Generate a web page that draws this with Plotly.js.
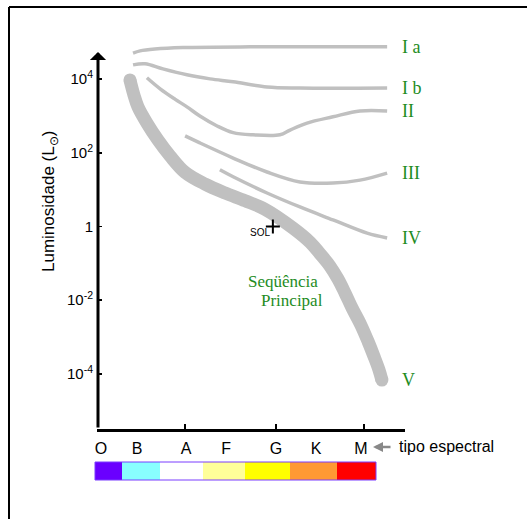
<!DOCTYPE html>
<html>
<head>
<meta charset="utf-8">
<script src="https://cdn.plot.ly/plotly-3.0.1.min.js"></script>
<style>
html,body{margin:0;padding:0;background:#fff;}
#chart{width:527px;height:519px;}
</style>
</head>
<body>
<div id="chart"></div>
<script>
// ---- data (x: spectral position on a 0-100 scale, y: log10 of luminosity in solar units) ----
const spectralClasses = ['O','B','A','F','G','K','M'];
const spectralPos = [1.3, 13.0, 28.9, 41.9, 58.1, 71.1, 85.7];
const tickMarkPos = [28.6, 58.1, 86.7];

const yTickVals = [4, 2, 0, -2, -4];
const yTickText = ['10<sup>4</sup>', '10<sup>2</sup>', '1', '10<sup>-2</sup>', '10<sup>-4</sup>'];

const msX    = [10.7,12.0,13.3,16.2,19.8,23.7,28.6,35.1,41.6,48.1,54.5,63.6,69.2,72.4,75.6,78.2,80.5,82.8,85.7,88.0,89.9,91.5,92.5];
const msLogL = [3.98,3.57,3.25,2.81,2.35,1.92,1.47,1.15,0.91,0.70,0.47,-0.04,-0.43,-0.74,-1.07,-1.42,-1.80,-2.21,-2.68,-3.12,-3.52,-3.88,-4.17];

const iaX    = [11.7,14.0,18.8,27.9,49.7,72.4,94.2];
const iaLogL = [4.71,4.77,4.82,4.86,4.88,4.88,4.88];

const ibX    = [11.7,15.6,21.4,29.2,36.7,44.2,55.2,65.9,94.2];
const ibLogL = [4.39,4.42,4.28,4.12,4.01,3.93,3.79,3.76,3.76];

const iiX    = [16.2,20.5,25.3,29.2,33.4,39.0,44.2,50.6,59.4,62.7,68.2,76.6,85.4,94.2];
const iiLogL = [4.04,3.74,3.46,3.25,3.00,2.73,2.55,2.49,2.49,2.62,2.81,2.98,3.14,3.14];

const iiiX    = [28.6,33.4,44.2,55.2,65.9,76.6,85.4,94.2];
const iiiLogL = [2.46,2.27,1.86,1.48,1.21,1.18,1.26,1.45];

const ivX    = [39.9,44.2,55.2,65.9,76.6,87.7,94.2];
const ivLogL = [1.54,1.35,0.91,0.53,0.18,-0.18,-0.31];

const sunX = [57.1];
const sunLogL = [0];

const lumClassText = ['I a','I b','II','III','IV','V'];
const spectralColors = ['#6a00ff','#88ffff','#ffffff','#ffff99','#ffff00','#ff9933','#ff0000'];

// ---- layout helpers ----
const W = 527, H = 519;
const L = 97, R = 405, T = 38, B = 429;
const px = p => (p - L) / (R - L);   // pixel -> paper x
const py = p => (B - p) / (B - T);   // pixel -> paper y

const GRAY = '#c0c0c0';
const GREEN = '#1e8c1e';
const SANS = 'Liberation Sans, Arial, sans-serif';
const SERIF = 'Liberation Serif, Times New Roman, serif';

const thin = (x, y) => ({x: x, y: y, mode: 'lines', type: 'scatter',
  line: {color: GRAY, width: 3.5, shape: 'spline', smoothing: 1},
  hoverinfo: 'skip', showlegend: false});

const traces = [
  thin(iaX, iaLogL), thin(ibX, ibLogL), thin(iiX, iiLogL), thin(iiiX, iiiLogL), thin(ivX, ivLogL),
  {x: msX, y: msLogL, mode: 'lines', type: 'scatter',
   line: {color: GRAY, width: 13, shape: 'spline', smoothing: 1}, hoverinfo: 'skip', showlegend: false},
  {x: [msX[0], msX[msX.length-1]], y: [msLogL[0], msLogL[msLogL.length-1]], mode: 'markers', type: 'scatter',
   marker: {color: GRAY, size: 13}, hoverinfo: 'skip', showlegend: false},
  {x: sunX, y: sunLogL, mode: 'markers', type: 'scatter',
   marker: {symbol: 'cross-thin', size: 10, line: {color: '#000', width: 2}}, hoverinfo: 'skip', showlegend: false},
  {x: [50], y: [0], xaxis: 'x2', mode: 'markers', type: 'scatter', marker: {opacity: 0}, hoverinfo: 'skip', showlegend: false}
];

const curveEnds = [
  iaLogL[iaLogL.length-1], ibLogL[ibLogL.length-1], iiLogL[iiLogL.length-1],
  iiiLogL[iiiLogL.length-1], ivLogL[ivLogL.length-1], msLogL[msLogL.length-1]
];

const annotations = [];
lumClassText.forEach((t, i) => {
  annotations.push({xref: 'paper', yref: 'y', x: px(400), y: curveEnds[i], xanchor: 'left', yanchor: 'middle',
    text: t, showarrow: false, font: {family: SERIF, size: 18, color: GREEN}});
});
annotations.push({xref: 'paper', yref: 'paper', x: px(283), y: py(281), xanchor: 'center', yanchor: 'middle',
  text: 'Seqüência', showarrow: false, font: {family: SERIF, size: 17, color: GREEN}});
annotations.push({xref: 'paper', yref: 'paper', x: px(292), y: py(300), xanchor: 'center', yanchor: 'middle',
  text: 'Principal', showarrow: false, font: {family: SERIF, size: 17, color: GREEN}});
annotations.push({xref: 'x', yref: 'y', x: sunX[0], y: sunLogL[0], xanchor: 'right', yanchor: 'middle',
  xshift: -1, yshift: -6, text: 'SOL', showarrow: false, font: {family: SANS, size: 10, color: '#000'}});
// y axis line with arrow
annotations.push({xref: 'paper', yref: 'paper', x: px(98), y: py(52), ax: 0, ay: 377, axref: 'pixel', ayref: 'pixel',
  text: '', showarrow: true, arrowhead: 1, arrowsize: 0.9, arrowwidth: 3, arrowcolor: '#000', standoff: 0, startstandoff: 0});
// y title
annotations.push({xref: 'paper', yref: 'paper', x: px(50), y: py(202), xanchor: 'center', yanchor: 'middle', textangle: -90,
  text: 'Luminosidade (L<sub>⊙</sub>)', showarrow: false, font: {family: SANS, size: 17, color: '#000'}});
// spectral type arrow + label
annotations.push({xref: 'paper', yref: 'paper', x: px(373), y: py(447), ax: 19, ay: 0,
  text: '', showarrow: true, arrowhead: 2, arrowsize: 0.8, arrowwidth: 2.5, arrowcolor: '#888', standoff: 0});
annotations.push({xref: 'paper', yref: 'paper', x: px(397), y: py(447), xanchor: 'left', yanchor: 'middle',
  text: 'tipo espectral', showarrow: false, font: {family: SANS, size: 16, color: '#000'}});

// colour bar
const barEdges = [95, 122, 160, 203, 245, 290, 337, 376];
const shapes = [];
spectralColors.forEach((c, i) => {
  shapes.push({type: 'rect', xref: 'paper', yref: 'paper', x0: px(barEdges[i]), x1: px(barEdges[i+1]),
    y0: py(480), y1: py(462), fillcolor: c, line: {width: 0}, layer: 'above'});
});
shapes.push({type: 'rect', xref: 'paper', yref: 'paper', x0: px(barEdges[0]), x1: px(barEdges[barEdges.length-1]),
  y0: py(480), y1: py(462), fillcolor: 'rgba(0,0,0,0)', line: {width: 1, color: '#7a3cff'}, layer: 'above'});
// frame
shapes.push({type: 'line', xref: 'paper', yref: 'paper', x0: px(9), x1: px(W), y0: py(7), y1: py(7),
  line: {color: '#000', width: 2}, layer: 'above'});
shapes.push({type: 'line', xref: 'paper', yref: 'paper', x0: px(9), x1: px(9), y0: py(7), y1: py(H),
  line: {color: '#000', width: 2}, layer: 'above'});

const layout = {
  width: W, height: H,
  margin: {l: L, r: W - R, t: T, b: H - B, pad: 0},
  paper_bgcolor: '#ffffff', plot_bgcolor: 'rgba(0,0,0,0)',
  showlegend: false,
  xaxis: {range: [0, 100], showgrid: false, zeroline: false, showline: true, linecolor: '#000', linewidth: 2.5,
    tickvals: tickMarkPos, ticks: 'inside', ticklen: 5, tickwidth: 1.5, tickcolor: '#000', showticklabels: false},
  xaxis2: {range: [0, 100], overlaying: 'x', anchor: 'y', side: 'bottom', showgrid: false, zeroline: false,
    showline: false, tickvals: spectralPos, ticktext: spectralClasses, ticks: '', ticklabelstandoff: 8,
    tickfont: {family: SANS, size: 16, color: '#000'}},
  yaxis: {range: [-5.50, 5.12], showgrid: false, zeroline: false, showline: false,
    tickvals: yTickVals, ticktext: yTickText, ticks: 'inside', ticklen: 5, tickwidth: 1.5, tickcolor: '#000',
    ticklabelstandoff: 3, tickfont: {family: SANS, size: 15, color: '#000'}},
  annotations: annotations,
  shapes: shapes
};

Plotly.newPlot('chart', traces, layout, {staticPlot: true, displayModeBar: false});
</script>
</body>
</html>
